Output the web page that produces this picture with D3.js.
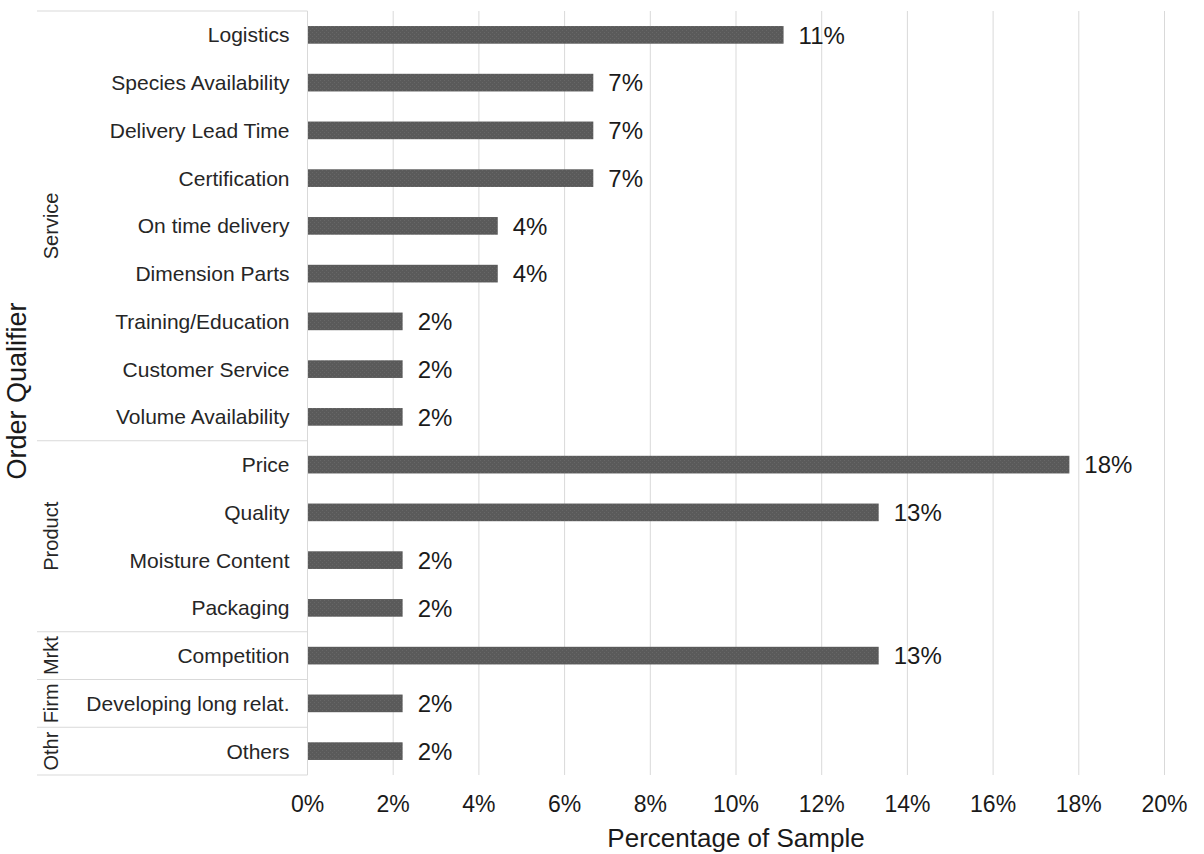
<!DOCTYPE html>
<html>
<head>
<meta charset="utf-8">
<script src="https://cdn.jsdelivr.net/npm/d3@7"></script>
<style>
  html, body { margin: 0; padding: 0; background: #fff; }
  svg { display: block; font-family: "Liberation Sans", Arial, sans-serif; }
</style>
</head>
<body>
<svg id="chart" width="1204" height="854"></svg>
<script>
// Order qualifiers, top to bottom
const categories = [
  "Logistics", "Species Availability", "Delivery Lead Time", "Certification",
  "On time delivery", "Dimension Parts", "Training/Education", "Customer Service",
  "Volume Availability", "Price", "Quality", "Moisture Content", "Packaging",
  "Competition", "Developing long relat.", "Others"
];
// Share of sample (%)
const values = [
  11.11, 6.67, 6.67, 6.67,
  4.44, 4.44, 2.22, 2.22,
  2.22, 17.78, 13.33, 2.22, 2.22,
  13.33, 2.22, 2.22
];
// Group name and how many categories each group spans
const groupNames = ["Service", "Product", "Mrkt", "Firm", "Othr"];
const groupSizes = [9, 4, 1, 1, 1];
const xTicks = [0, 2, 4, 6, 8, 10, 12, 14, 16, 18, 20];

const svg = d3.select("#chart");
const margin = { left: 307.5, right: 39.5, top: 11, bottom: 79 };
const W = 1204, H = 854;
const groupLeft = 37;

const x = d3.scaleLinear().domain([0, 20]).range([margin.left, W - margin.right]);
const y = d3.scaleBand().domain(categories).range([margin.top, H - margin.bottom]).paddingInner(0.63).paddingOuter(0.315);

// Vertical gridlines
svg.append("g").selectAll("line").data(xTicks.slice(1)).join("line")
  .attr("x1", d => x(d)).attr("x2", d => x(d))
  .attr("y1", margin.top).attr("y2", H - margin.bottom)
  .attr("stroke", "#d9d9d9").attr("stroke-width", 1);

// Bar texture
const defs = svg.append("defs");
const pat = defs.append("pattern").attr("id", "barTex")
  .attr("width", 4).attr("height", 4).attr("patternUnits", "userSpaceOnUse");
pat.append("rect").attr("width", 4).attr("height", 4).attr("fill", "#5a5a5a");
pat.append("rect").attr("x", 0).attr("y", 0).attr("width", 1).attr("height", 1).attr("fill", "#676767");
pat.append("rect").attr("x", 2).attr("y", 2).attr("width", 1).attr("height", 1).attr("fill", "#676767");

// Bars
svg.append("g").selectAll("rect").data(categories).join("rect")
  .attr("x", x(0))
  .attr("y", d => y(d))
  .attr("width", (d, i) => x(values[i]) - x(0))
  .attr("height", y.bandwidth())
  .attr("fill", "url(#barTex)");

// Value labels
svg.append("g").selectAll("text").data(categories).join("text")
  .attr("x", (d, i) => x(values[i]) + 15)
  .attr("y", d => y(d) + y.bandwidth() / 2)
  .attr("dy", "0.36em")
  .attr("font-size", 24)
  .attr("fill", "#1a1a1a")
  .text((d, i) => d3.format(".0f")(values[i]) + "%");

// Category labels
svg.append("g").selectAll("text").data(categories).join("text")
  .attr("x", x(0) - 18)
  .attr("y", d => y(d) + y.bandwidth() / 2)
  .attr("dy", "0.36em")
  .attr("text-anchor", "end")
  .attr("font-size", 21)
  .attr("fill", "#262626")
  .text(d => d);

// Group boundaries and labels
const step = y.step();
let cum = 0;
const bounds = [margin.top];
const groups = groupNames.map((g, i) => {
  const start = cum;
  cum += groupSizes[i];
  bounds.push(margin.top + cum * step);
  return { name: g, y0: margin.top + start * step, y1: margin.top + cum * step };
});
svg.append("g").selectAll("line").data(bounds).join("line")
  .attr("x1", groupLeft).attr("x2", x(0))
  .attr("y1", d => d).attr("y2", d => d)
  .attr("stroke", "#d9d9d9").attr("stroke-width", 1);
svg.append("line")
  .attr("x1", x(0)).attr("x2", x(0))
  .attr("y1", margin.top).attr("y2", H - margin.bottom)
  .attr("stroke", "#d9d9d9").attr("stroke-width", 1);
svg.append("g").selectAll("text").data(groups).join("text")
  .attr("transform", d => `translate(58,${(d.y0 + d.y1) / 2}) rotate(-90)`)
  .attr("text-anchor", "middle")
  .attr("font-size", 20)
  .attr("fill", "#262626")
  .text(d => d.name);

// X axis tick labels
svg.append("g").selectAll("text").data(xTicks).join("text")
  .attr("x", d => x(d))
  .attr("y", 812)
  .attr("text-anchor", "middle")
  .attr("font-size", 23)
  .attr("fill", "#1a1a1a")
  .text(d => d + "%");

// Axis titles
svg.append("text")
  .attr("x", (x(0) + x(20)) / 2).attr("y", 847)
  .attr("text-anchor", "middle")
  .attr("font-size", 26)
  .attr("fill", "#1a1a1a")
  .text("Percentage of Sample");
svg.append("text")
  .attr("transform", `translate(26,391) rotate(-90)`)
  .attr("text-anchor", "middle")
  .attr("font-size", 27)
  .attr("fill", "#1a1a1a")
  .text("Order Qualifier");
</script>
</body>
</html>
